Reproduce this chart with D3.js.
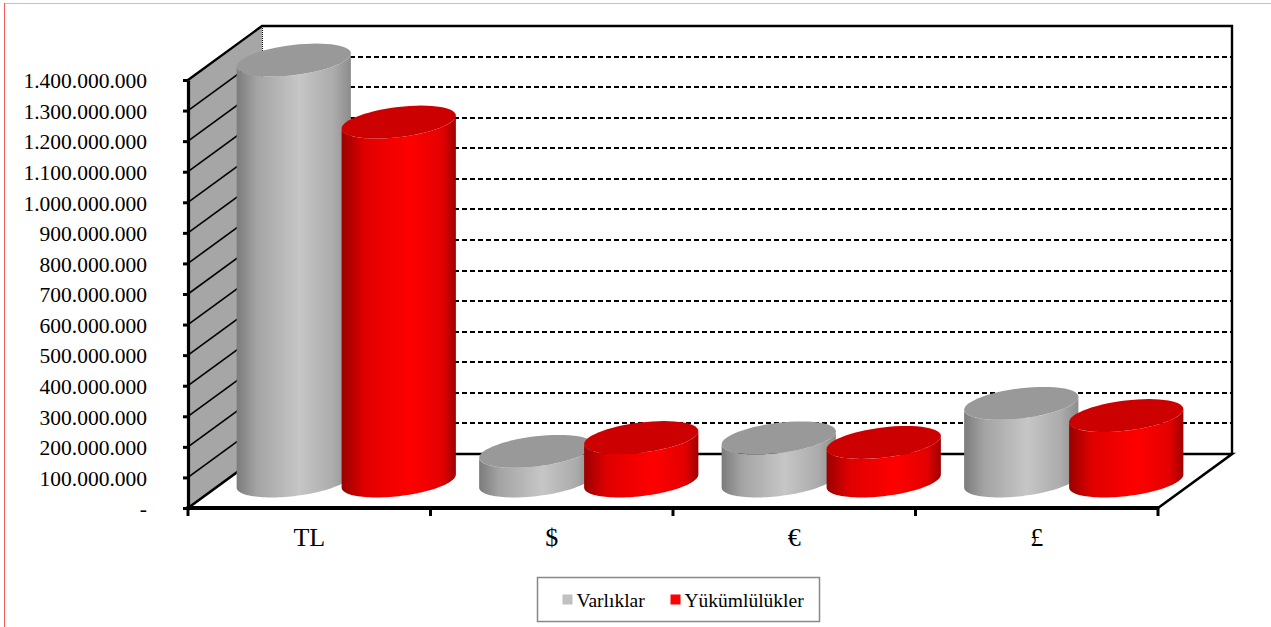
<!DOCTYPE html>
<html>
<head>
<meta charset="utf-8">
<script src="https://cdn.jsdelivr.net/npm/d3@7"></script>
<style>
  body { margin: 0; background: #fff; }
  svg { display: block; }
  svg text { font-family: "Liberation Serif", "Times New Roman", serif; fill: #000; }
</style>
</head>
<body>
<div id="chart"></div>
<script>
// data
var categories = ['TL', '$', '€', '£'];
var series = ['Varlıklar', 'Yükümlülükler'];
var varliklar = [1377e6, 97e6, 141e6, 254e6];
var yukumlulukler = [1174e6, 142e6, 126e6, 214e6];
var yTicks = [0, 100e6, 200e6, 300e6, 400e6, 500e6, 600e6, 700e6,
  800e6, 900e6, 1000e6, 1100e6, 1200e6, 1300e6, 1400e6];

var W = 1271, H = 627;
// front plane of the plot + depth vector
var X0 = 188, X1 = 1158, Y0 = 508, Y1 = 80;
var DX = 74, DY = -54;

var svg = d3.select('#chart').append('svg')
  .attr('width', W)
  .attr('height', H);

// outer border
svg.append('line').attr('x1', 4).attr('y1', 3.5).attr('x2', W).attr('y2', 3.5)
  .attr('stroke', '#ffa8a8').attr('stroke-width', 1);
svg.append('line').attr('x1', 4.5).attr('y1', 3).attr('x2', 4.5).attr('y2', H)
  .attr('stroke', '#ff5a5a').attr('stroke-width', 1);

var y = d3.scaleLinear().domain([0, 1400e6]).range([Y0, Y1]);
var x = d3.scaleBand().domain(categories).range([X0, X1]);
var xs = d3.scaleBand().domain(series).range([0, x.bandwidth()])
  .paddingInner(0).paddingOuter(0.155);

var loc = d3.formatLocale({ decimal: ',', thousands: '.', grouping: [3], currency: ['', ''] });
var fmt = loc.format(',.0f');

// gradients
var defs = svg.append('defs');
var grads = {
  'Varlıklar': [[0, '#7c7c7c'], [0.18, '#a4a4a4'], [0.55, '#c6c6c6'], [0.85, '#ababab'], [1, '#8c8c8c']],
  'Yükümlülükler': [[0, '#9a0000'], [0.2, '#e00000'], [0.6, '#ff0000'], [0.88, '#e40000'], [1, '#a00000']]
};
var topColor = { 'Varlıklar': '#999999', 'Yükümlülükler': '#cc0000' };
var swatch = { 'Varlıklar': '#c0c0c0', 'Yükümlülükler': '#ff0000' };
series.forEach(function (s, i) {
  var g = defs.append('linearGradient').attr('id', 'grad' + i)
    .attr('x1', 0).attr('y1', 0).attr('x2', 1).attr('y2', 0);
  grads[s].forEach(function (st) {
    g.append('stop').attr('offset', st[0]).attr('stop-color', st[1]);
  });
});

// back wall
var yb = function (v) { return Math.round(y(v) + DY); };
svg.append('rect')
  .attr('x', X0 + DX).attr('y', Y1 + DY)
  .attr('width', X1 - X0).attr('height', Y0 - Y1)
  .attr('fill', '#fff');

// side wall
svg.append('path')
  .attr('d', d3.line()([[X0, Y1], [X0 + DX, Y1 + DY], [X0 + DX, Y0 + DY], [X0, Y0]]) + 'Z')
  .attr('fill', '#a6a6a6');

// gridlines: side wall (solid) and back wall (dashed)
var grid = svg.append('g');
yTicks.forEach(function (v) {
  if (v === 0 || v === 1400e6) return;
  grid.append('line')
    .attr('x1', X0).attr('y1', y(v))
    .attr('x2', X0 + DX).attr('y2', y(v) + DY)
    .attr('stroke', '#000').attr('stroke-width', 1.6);
  grid.append('line')
    .attr('x1', X0 + DX).attr('y1', yb(v))
    .attr('x2', X1 + DX).attr('y2', yb(v))
    .attr('stroke', '#000').attr('stroke-width', 2)
    .attr('stroke-dasharray', '5,3');
});

// wall edges
svg.append('line')
  .attr('x1', X0 + DX + 0.5).attr('y1', Y1 + DY).attr('x2', X0 + DX + 0.5).attr('y2', Y0 + DY)
  .attr('stroke', '#000').attr('stroke-width', 1).attr('stroke-dasharray', '1,1');
svg.append('path')
  .attr('d', d3.line()([[X0, Y1], [X0 + DX, Y1 + DY], [X1 + DX, Y1 + DY], [X1 + DX, Y0 + DY]]))
  .attr('fill', 'none').attr('stroke', '#000').attr('stroke-width', 2.4);
svg.append('path')
  .attr('d', d3.line()([[X0, Y0], [X0 + DX, Y0 + DY], [X1 + DX, Y0 + DY], [X1, Y0]]))
  .attr('fill', 'none').attr('stroke', '#000').attr('stroke-width', 2.6);

// cylinders
var r = xs.bandwidth() / 2;
var k = 0.305;
var hx = k * DX, hy = k * DY;
var t0 = Math.atan2(hx, r);

function arc(cx, cy, a, b) {
  var pts = [];
  for (var i = 0; i <= 60; i++) {
    var t = a + (b - a) * i / 60;
    pts.push([cx + r * Math.cos(t) + hx * Math.sin(t), cy + hy * Math.sin(t)]);
  }
  return pts;
}

var values = [varliklar, yukumlulukler];
var gc = svg.append('g');
categories.forEach(function (c, ci) {
  series.forEach(function (s, si) {
    var v = values[si][ci];
    var cx = x(c) + xs(s) + r + DX / 2;
    var cyB = y(0) + DY / 2;
    var cyT = y(v) + DY / 2;
    var side = arc(cx, cyT, t0 + Math.PI, t0 + 2 * Math.PI)
      .concat(arc(cx, cyB, t0 + 2 * Math.PI, t0 + Math.PI));
    gc.append('path')
      .attr('d', d3.line()(side) + 'Z')
      .attr('fill', 'url(#grad' + si + ')');
    gc.append('path')
      .attr('d', d3.line()(arc(cx, cyT, 0, 2 * Math.PI)) + 'Z')
      .attr('fill', topColor[s]);
  });
});

// y axis
var ya = svg.append('g')
  .attr('transform', 'translate(' + X0 + ',0)')
  .call(d3.axisLeft(y).tickValues(yTicks).tickSize(5).tickSizeOuter(0).tickPadding(36)
    .tickFormat(function (d) { return d === 0 ? '-' : fmt(d); }));
ya.attr('font-family', null).attr('font-size', null);
ya.select('.domain').attr('stroke', '#000').attr('stroke-width', 3.2);
ya.selectAll('.tick line').attr('stroke', '#000').attr('stroke-width', 3);
ya.selectAll('.tick text')
  .style('font-size', '21.5px')
  .attr('dy', '0.36em');

// x axis
var xa = svg.append('g')
  .attr('transform', 'translate(0,' + Y0 + ')')
  .call(d3.axisBottom(x).tickSize(0).tickPadding(20));
xa.attr('font-family', null).attr('font-size', null);
xa.select('.domain').remove();
xa.selectAll('.tick text')
  .style('font-size', '26px');
svg.append('line')
  .attr('x1', X0 - 1.5).attr('y1', Y0).attr('x2', X1 + 1).attr('y2', Y0)
  .attr('stroke', '#000').attr('stroke-width', 4);
categories.map(function (c) { return x(c); }).concat([X1]).forEach(function (px) {
  svg.append('line')
    .attr('x1', px).attr('y1', Y0).attr('x2', px).attr('y2', Y0 + 8)
    .attr('stroke', '#000').attr('stroke-width', 3);
});

// legend
var lg = svg.append('g').attr('transform', 'translate(537.5,577.5)');
lg.append('rect').attr('width', 282).attr('height', 44)
  .attr('fill', '#fff').attr('stroke', '#888').attr('stroke-width', 1.5);
var lx = [25, 133];
series.forEach(function (s, i) {
  lg.append('rect').attr('x', lx[i]).attr('y', 17).attr('width', 10).attr('height', 10)
    .attr('fill', swatch[s]);
  lg.append('text').attr('x', lx[i] + 14).attr('y', 29)
    .style('font-size', '19.5px').text(s);
});
</script>
</body>
</html>
